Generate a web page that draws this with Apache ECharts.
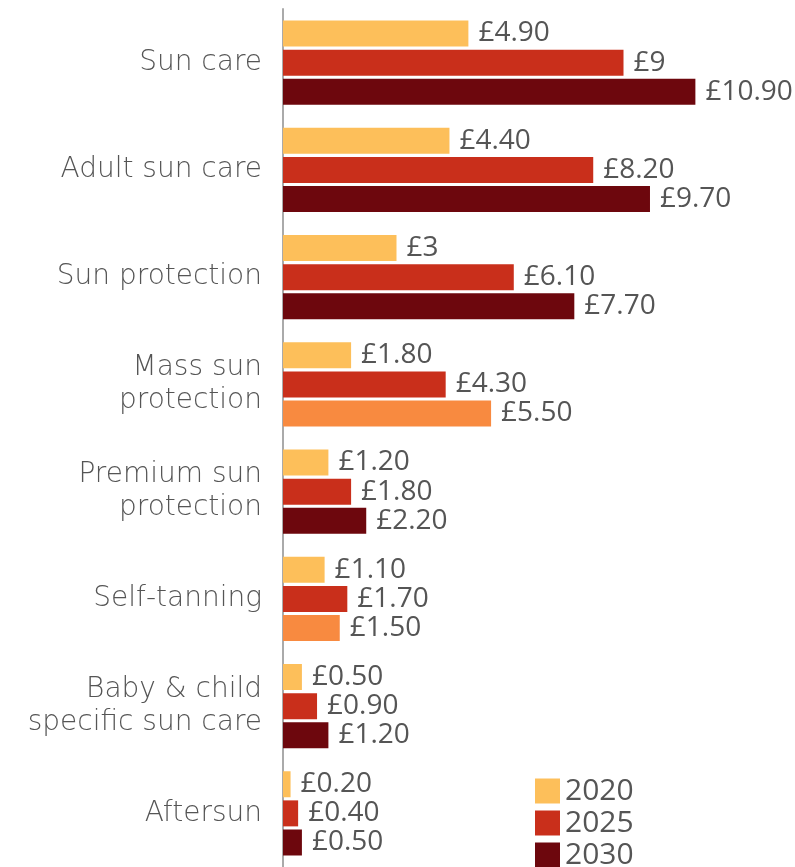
<!DOCTYPE html>
<html><head><meta charset="utf-8">
<script src="https://cdn.jsdelivr.net/npm/echarts@6/dist/echarts.min.js"></script>
<style>html,body{margin:0;padding:0;background:#fff}#c{width:795px;height:867px}</style>
</head><body><div id="c"></div>
<script>
const categories = ["Sun care","Adult sun care","Sun protection","Mass sun\nprotection","Premium sun\nprotection","Self-tanning","Baby & child\nspecific sun care","Aftersun"];
const seriesNames = ["2020","2025","2030"];
const v2020 = [4.9, 4.4, 3, 1.8, 1.2, 1.1, 0.5, 0.2];
const v2025 = [9, 8.2, 6.1, 4.3, 1.8, 1.7, 0.9, 0.4];
const v2030 = [10.9, 9.7, 7.7, 5.5, 2.2, 1.5, 1.2, 0.5];
const highlight2030 = [false, false, false, true, false, true, false, false];

const colors = ["#FDBF5A", "#C92F1B", "#6D070D"];
const orange = "#F88A40";
const fontFam = "'Open Sans', sans-serif";

function fmt(v){ return "£" + (Number.isInteger(v) ? String(v) : v.toFixed(2)); }

const chart = echarts.init(document.getElementById('c'));
const mk = (name, vals, idx) => ({
  name, type: 'bar', barWidth: 26, barGap: '12%',
  data: vals.map((v,i) => (idx===2 && highlight2030[i]) ? {value:v, itemStyle:{color:orange}} : v),
  itemStyle: {color: colors[idx]},
  label: {show:true, position:'right', distance:10, color:'#555', fontSize:28, fontFamily:fontFam,
    formatter: p => fmt(p.value)},
  animation:false
});
chart.setOption({
  animation:false,
  grid:{left:283, top:9, height:863, right:58},
  xAxis:{type:'value', min:0, max:12, show:false},
  yAxis:{type:'category', inverse:true, data:categories,
    axisLine:{show:true, lineStyle:{color:'#aaa', width:2}},
    axisTick:{show:false},
    axisLabel:{color:'#555', fontSize:28, fontWeight:200, fontFamily:"'DejaVu Sans', sans-serif", margin:21, align:'right', lineHeight:33}},
  legend:{orient:'vertical', left:535, top:776, height:120, padding:0, itemWidth:25, itemHeight:25, itemGap:2,
    icon:'rect', textStyle:{color:'#555', fontSize:30, lineHeight:30, fontFamily:fontFam},
    data:seriesNames},
  series:[mk("2020", v2020, 0), mk("2025", v2025, 1), mk("2030", v2030, 2)]
});
</script></body></html>
